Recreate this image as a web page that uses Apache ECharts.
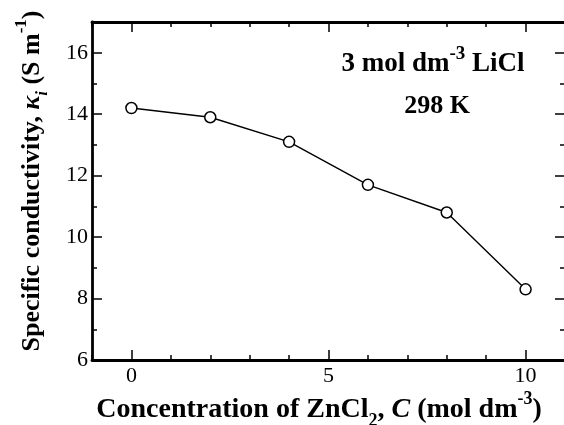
<!DOCTYPE html>
<html>
<head>
<meta charset="utf-8">
<script src="https://cdn.jsdelivr.net/npm/echarts@6/dist/echarts.min.js"></script>
<style>html,body{margin:0;padding:0;background:#fff;}#c{width:564px;height:425px;}</style>
</head>
<body>
<div id="c"></div>
<script>
// Data
var concentration = [0, 2, 4, 6, 8, 10];
var conductivity = [14.2, 13.9, 13.1, 11.7, 10.8, 8.3];
var xMajorTicks = [0, 5, 10];
var yMajorTicks = [6, 8, 10, 12, 14, 16];

var FONT = 'Liberation Serif';
var chart = echarts.init(document.getElementById('c'));

function baseX(gridIndex, position, opts) {
  return Object.assign({
    type: 'value', gridIndex: gridIndex, position: position,
    min: -1, max: 11, interval: 1,
    splitLine: { show: false },
    axisLine: { show: true, onZero: false, lineStyle: { color: '#000', width: 2.8 } },
    axisTick: { show: true, inside: true, length: 5, lineStyle: { color: '#000', width: 1.5 } },
    axisLabel: { show: false }
  }, opts);
}
function baseY(gridIndex, position, opts) {
  return Object.assign({
    type: 'value', gridIndex: gridIndex, position: position,
    min: 6, max: 17, interval: 1,
    splitLine: { show: false },
    axisLine: { show: true, onZero: false, lineStyle: { color: '#000', width: 2.8 } },
    axisTick: { show: true, inside: true, length: 5, lineStyle: { color: '#000', width: 1.5 } },
    axisLabel: { show: false }
  }, opts);
}
var majorTickStyle = { color: '#000', width: 1.5 };
var hiddenLine = { show: false, onZero: false };

var pairs = concentration.map(function (c, i) { return [c, conductivity[i]]; });

var option = {
  animation: false,
  backgroundColor: '#fff',
  grid: [
    { left: 92, right: -1, top: 22, bottom: 65, outerBoundsMode: 'none' },
    { left: 92, right: -1, top: 22, bottom: 65, outerBoundsMode: 'none' }
  ],
  xAxis: [
    baseX(0, 'bottom', {
      axisLabel: { show: true, customValues: xMajorTicks, color: '#000', fontFamily: FONT, fontSize: 22, margin: 5 }
    }),
    baseX(0, 'top', {}),
    baseX(1, 'bottom', {
      axisLine: hiddenLine,
      axisTick: { show: true, inside: true, length: 10, customValues: xMajorTicks, lineStyle: majorTickStyle }
    }),
    baseX(1, 'top', {
      axisLine: hiddenLine,
      axisTick: { show: true, inside: true, length: 10, customValues: xMajorTicks, lineStyle: majorTickStyle }
    })
  ],
  yAxis: [
    baseY(0, 'left', {
      axisLabel: { show: true, customValues: yMajorTicks, color: '#000', fontFamily: FONT, fontSize: 22, margin: 4 }
    }),
    baseY(0, 'right', {}),
    baseY(1, 'left', {
      axisLine: hiddenLine,
      axisTick: { show: true, inside: true, length: 10, customValues: yMajorTicks, lineStyle: majorTickStyle }
    }),
    baseY(1, 'right', {
      axisLine: hiddenLine,
      axisTick: { show: true, inside: true, length: 10, customValues: yMajorTicks, lineStyle: majorTickStyle }
    })
  ],
  series: [{
    type: 'line',
    xAxisIndex: 0, yAxisIndex: 0,
    data: pairs,
    symbol: 'circle',
    symbolSize: 11,
    lineStyle: { color: '#000', width: 1.4 },
    itemStyle: { color: '#fff', borderColor: '#000', borderWidth: 1.5 },
    z: 5
  }],
  graphic: [
    {
      type: 'text', x: 319, y: 410,
      style: {
        text: '{b|Concentration of ZnCl}{sub|2}{b|, }{bi|C}{b| (mol dm}{sup|-3}{b|)}',
        align: 'center', verticalAlign: 'middle', fill: '#000',
        rich: {
          b: { fontFamily: FONT, fontWeight: 'bold', fontSize: 28, lineHeight: 40, fill: '#000' },
          bi: { fontFamily: FONT, fontWeight: 'bold', fontStyle: 'italic', fontSize: 28, lineHeight: 40, fill: '#000' },
          sub: { fontFamily: FONT, fontWeight: 'bold', fontSize: 18, lineHeight: 40, verticalAlign: 'bottom', fill: '#000' },
          sup: { fontFamily: FONT, fontWeight: 'bold', fontSize: 18, lineHeight: 40, verticalAlign: 'top', fill: '#000' }
        }
      }
    },
    {
      type: 'text', x: 32, y: 181, rotation: Math.PI / 2,
      style: {
        text: '{b|Specific conductivity, }{bi|κ}{subi|i}{b| (S m}{sup|-1}{b|)}',
        align: 'center', verticalAlign: 'middle', fill: '#000',
        rich: {
          b: { fontFamily: FONT, fontWeight: 'bold', fontSize: 26, lineHeight: 38, fill: '#000' },
          bi: { fontFamily: FONT, fontWeight: 'bold', fontStyle: 'italic', fontSize: 26, lineHeight: 38, fill: '#000' },
          subi: { fontFamily: FONT, fontWeight: 'bold', fontStyle: 'italic', fontSize: 17, lineHeight: 38, verticalAlign: 'bottom', fill: '#000' },
          sup: { fontFamily: FONT, fontWeight: 'bold', fontSize: 17, lineHeight: 38, verticalAlign: 'top', fill: '#000' }
        }
      }
    },
    {
      type: 'text', x: 433, y: 64,
      style: {
        text: '{b|3 mol dm}{sup|-3}{b| LiCl}',
        align: 'center', verticalAlign: 'middle', fill: '#000',
        rich: {
          b: { fontFamily: FONT, fontWeight: 'bold', fontSize: 27, lineHeight: 38, fill: '#000' },
          sup: { fontFamily: FONT, fontWeight: 'bold', fontSize: 19, lineHeight: 38, verticalAlign: 'top', fill: '#000' }
        }
      }
    },
    {
      type: 'text', x: 437, y: 106,
      style: {
        text: '298 K',
        align: 'center', verticalAlign: 'middle', fill: '#000',
        fontFamily: FONT, fontWeight: 'bold', fontSize: 26
      }
    }
  ]
};
chart.setOption(option);
</script>
</body>
</html>
